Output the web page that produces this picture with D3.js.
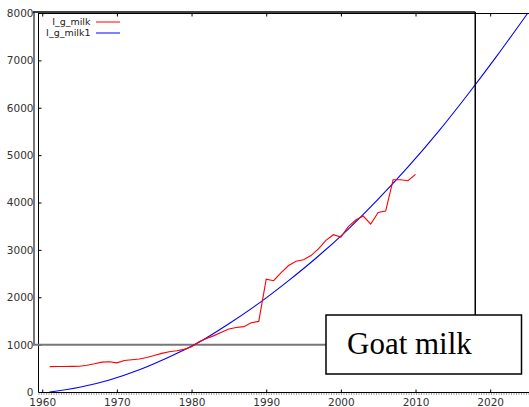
<!DOCTYPE html>
<meta charset="utf-8">
<style>
body { margin: 0; background: #fff; }
.axis path, .axis line { stroke: #000; }
.axis text { font-family: "DejaVu Sans", sans-serif; font-size: 10.5px; fill: #333; }
</style>
<div id="viz"></div>
<script src="https://cdn.jsdelivr.net/npm/d3@7"></script>
<script>
// observed series (red)
var years = [1961,1962,1963,1964,1965,1966,1967,1968,1969,1970,
             1971,1972,1973,1974,1975,1976,1977,1978,1979,1980,
             1981,1982,1983,1984,1985,1986,1987,1988,1989,1990,
             1991,1992,1993,1994,1995,1996,1997,1998,1999,2000,
             2001,2002,2003,2004,2005,2006,2007,2008,2009,2010];
var milk = [535,537,538,540,545,565,595,630,640,615,
            665,680,695,730,770,815,850,870,900,955,
            1060,1130,1190,1260,1330,1360,1380,1460,1490,2380,
            2350,2520,2670,2760,2790,2880,3020,3200,3320,3270,
            3490,3630,3715,3545,3790,3820,4480,4480,4460,4595];

// fitted curve (blue), read at a few years
var fitYears = [1961,1965,1969,1973,1977,1981,1985,1989,1993,1997,2001,2005,2009,2013,2017,2021,2025];
var milkFit  = [0,100,255,470,740,1050,1440,1870,2350,2870,3440,4070,4750,5485,6280,7115,7990];

var yTicks = [0,1000,2000,3000,4000,5000,6000,7000,8000];
var xTicks = [1960,1970,1980,1990,2000,2010,2020];
var seriesNames = ["I_g_milk", "I_g_milk1"];
var seriesColors = ["#ff0000", "#0000ff"];
var refYear = 2018, refValue = 1000;
var label = "Goat milk";

var W = 529, H = 407;
var svg = d3.select('#viz').append('svg')
    .attr('width', W).attr('height', H);

var x = d3.scaleLinear().domain([1959.5, 2025.2]).range([38.5, 529]);
var y = d3.scaleLinear().domain([0, 8000]).range([392, 13]);

svg.append('clipPath').attr('id', 'clip')
  .append('rect').attr('x', 38.5).attr('y', 13).attr('width', W - 38.5).attr('height', 379);

// y axis
svg.append('g').attr('class', 'axis')
    .attr('transform', 'translate(38.5,0)')
    .call(d3.axisLeft(y).tickValues(yTicks).tickFormat(d3.format('d')).tickSize(-3).tickPadding(5).tickSizeOuter(0))
    .select('.domain').attr('d', 'M0,13V392');

// x axis
var xAxisG = svg.append('g').attr('class', 'axis')
    .attr('transform', 'translate(0,392.5)')
    .call(d3.axisBottom(x).tickValues(xTicks).tickFormat(d3.format('d')).tickSize(-3).tickPadding(6.5).tickSizeOuter(0));
xAxisG.select('.domain').attr('d', 'M38.5,0H529');

// dotted strip under the x axis
svg.append('line')
    .attr('x1', 38.5).attr('x2', W).attr('y1', 394).attr('y2', 394)
    .attr('stroke', '#555').attr('stroke-dasharray', '1,1.5');

// top border with mirrored ticks
var topAxisG = svg.append('g').attr('class', 'axis')
    .attr('transform', 'translate(0,13.5)')
    .call(d3.axisTop(x).tickValues(xTicks).tickFormat('').tickSize(-3).tickSizeOuter(0));
topAxisG.select('.domain').attr('d', 'M38.5,0H529');

// crosshair box
svg.append('line').attr('x1', 34).attr('x2', 34).attr('y1', 12).attr('y2', y(refValue))
    .attr('stroke', '#777').attr('stroke-width', 2);
svg.append('line').attr('x1', 33).attr('x2', x(refYear)).attr('y1', y(refValue)).attr('y2', y(refValue))
    .attr('stroke', '#777').attr('stroke-width', 2);
svg.append('line').attr('x1', 33).attr('x2', x(refYear)).attr('y1', 12).attr('y2', 12)
    .attr('stroke', '#000').attr('stroke-width', 1.5);

// lines
var line = d3.line().x(function(d) { return x(d[0]); }).y(function(d) { return y(d[1]); });
var g = svg.append('g').attr('clip-path', 'url(#clip)');
g.append('path')
    .datum(d3.zip(fitYears, milkFit))
    .attr('d', line.curve(d3.curveMonotoneX))
    .attr('fill', 'none').attr('stroke', seriesColors[1]).attr('stroke-width', 1.1);
g.append('path')
    .datum(d3.zip(years, milk))
    .attr('d', line.curve(d3.curveLinear))
    .attr('fill', 'none').attr('stroke', seriesColors[0]).attr('stroke-width', 1.1);

// vertical line at ref year
svg.append('line').attr('x1', x(refYear)).attr('x2', x(refYear)).attr('y1', 12).attr('y2', y(refValue))
    .attr('stroke', '#000').attr('stroke-width', 1.5);

// label box
svg.append('rect').attr('x', 326).attr('y', 315).attr('width', 195.5).attr('height', 59)
    .attr('fill', '#fff').attr('stroke', '#000').attr('stroke-width', 1.5);
svg.append('text').attr('x', 347).attr('y', 354)
    .attr('font-family', '"Liberation Serif", serif').attr('font-size', 31)
    .attr('fill', '#000').text(label);

// legend
var leg = svg.append('g').selectAll('g').data(seriesNames).enter().append('g')
    .attr('transform', function(d, i) { return 'translate(0,' + (22 + i * 11) + ')'; });
leg.append('text').attr('x', 90.5).attr('dy', '0.35em').attr('text-anchor', 'end')
    .attr('font-family', '"DejaVu Sans", sans-serif').attr('font-size', 9.5).attr('fill', '#222')
    .text(function(d) { return d; });
leg.append('line').attr('x1', 96).attr('x2', 120).attr('y1', 0).attr('y2', 0)
    .attr('stroke', function(d, i) { return seriesColors[i]; }).attr('stroke-width', 1);
</script>
